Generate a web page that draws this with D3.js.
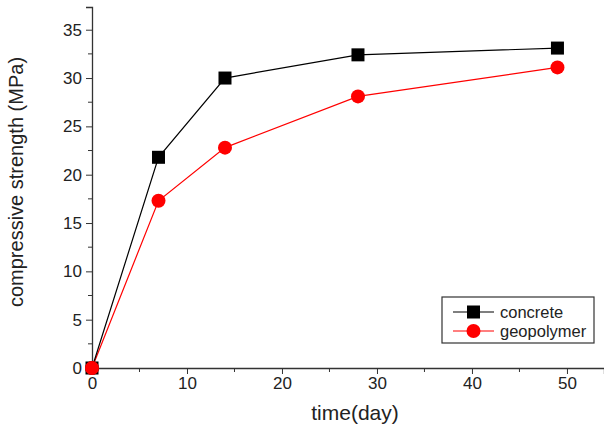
<!DOCTYPE html>
<html>
<head>
<meta charset="utf-8">
<script src="https://cdn.jsdelivr.net/npm/d3@7"></script>
<style>
body { margin: 0; background: #fff; }
text { font-family: "Liberation Sans", Arial, sans-serif; fill: #222; }
</style>
</head>
<body>
<div id="chart"></div>
<script>
var days = [0, 7, 14, 28, 49];
var concrete = [0, 21.8, 30.0, 32.4, 33.1];
var geopolymer = [0, 17.3, 22.8, 28.1, 31.1];
var xTicks = [0, 10, 20, 30, 40, 50];
var yTicks = [0, 5, 10, 15, 20, 25, 30, 35];
var seriesNames = ["concrete", "geopolymer"];

var width = 604, height = 425;
var margin = {left: 92, top: 7, right: 0, bottom: 57};

var svg = d3.select("#chart").append("svg")
    .attr("width", width)
    .attr("height", height);

var x = d3.scaleLinear().domain([0, 53.9]).range([margin.left, width - margin.right]);
var y = d3.scaleLinear().domain([0, 37.35]).range([height - margin.bottom, margin.top]);

// eixos
var xAxis = d3.axisBottom(x).tickValues(xTicks).tickSize(6).tickPadding(3);
var yAxis = d3.axisLeft(y).tickValues(yTicks).tickSize(6).tickPadding(4);

var gx = svg.append("g")
    .attr("transform", "translate(0," + y(0) + ")")
    .call(xAxis);
gx.selectAll(".tick").filter(function(d){ return d === 0; }).select("line").remove();
gx.append("g").selectAll("line")
    .data(d3.range(5, 54, 10))
    .enter().append("line")
    .attr("x1", function(d){ return x(d); })
    .attr("x2", function(d){ return x(d); })
    .attr("y1", 0).attr("y2", 4)
    .attr("stroke", "#333");

var gy = svg.append("g")
    .attr("transform", "translate(" + x(0) + ",0)")
    .call(yAxis);
gy.append("g").selectAll("line")
    .data(d3.range(2.5, 37, 5))
    .enter().append("line")
    .attr("y1", function(d){ return y(d); })
    .attr("y2", function(d){ return y(d); })
    .attr("x1", 0).attr("x2", -4)
    .attr("stroke", "#333");

svg.selectAll(".domain").attr("stroke", "#333").attr("stroke-width", 1.3);
svg.selectAll(".tick line").attr("stroke", "#333");
svg.selectAll(".tick text").style("font-size", "17px").style("fill", "#222")
    .style("font-family", "'Liberation Sans', Arial, sans-serif");

// titulos
svg.append("text")
    .attr("x", 355)
    .attr("y", 420)
    .attr("text-anchor", "middle")
    .style("font-size", "21px")
    .text("time(day)");

svg.append("text")
    .attr("transform", "translate(23,182) rotate(-90)")
    .attr("text-anchor", "middle")
    .style("font-size", "20px")
    .text("compressive strength (MPa)");

var line = d3.line()
    .x(function(d, i){ return x(days[i]); })
    .y(function(d){ return y(d); });

svg.append("path").datum(geopolymer)
    .attr("d", line).attr("fill", "none").attr("stroke", "#ff0000").attr("stroke-width", 1.2);
svg.append("path").datum(concrete)
    .attr("d", line).attr("fill", "none").attr("stroke", "#000").attr("stroke-width", 1.2);

svg.append("g").selectAll("circle")
    .data(geopolymer).enter().append("circle")
    .attr("cx", function(d, i){ return x(days[i]); })
    .attr("cy", function(d){ return y(d); })
    .attr("r", 7)
    .attr("fill", "#ff0000");

svg.append("g").selectAll("rect")
    .data(concrete).enter().append("rect")
    .attr("x", function(d, i){ return x(days[i]) - 6.5; })
    .attr("y", function(d){ return y(d) - 6.5; })
    .attr("width", 13).attr("height", 13)
    .attr("fill", "#000");

// o ponto (0,0) do geopolymer fica por cima
svg.append("circle")
    .attr("cx", x(days[0])).attr("cy", y(geopolymer[0]))
    .attr("r", 7).attr("fill", "#ff0000");

// legenda
var leg = svg.append("g").attr("transform", "translate(442,297)");
leg.append("rect")
    .attr("width", 152).attr("height", 46)
    .attr("fill", "#fff").attr("stroke", "#333").attr("stroke-width", 1.2);

seriesNames.forEach(function(name, i){
    var cy = 15 + i * 19;
    var col = i === 0 ? "#000" : "#ff0000";
    leg.append("line")
        .attr("x1", 11).attr("x2", 52)
        .attr("y1", cy).attr("y2", cy)
        .attr("stroke", col).attr("stroke-width", 1.2);
    if (i === 0) {
        leg.append("rect").attr("x", 25).attr("y", cy - 6.5)
            .attr("width", 13).attr("height", 13).attr("fill", col);
    } else {
        leg.append("circle").attr("cx", 31.5).attr("cy", cy).attr("r", 7).attr("fill", col);
    }
    leg.append("text")
        .attr("x", 58).attr("y", cy + 5.5)
        .style("font-size", "16.5px")
        .text(name);
});
</script>
</body>
</html>
